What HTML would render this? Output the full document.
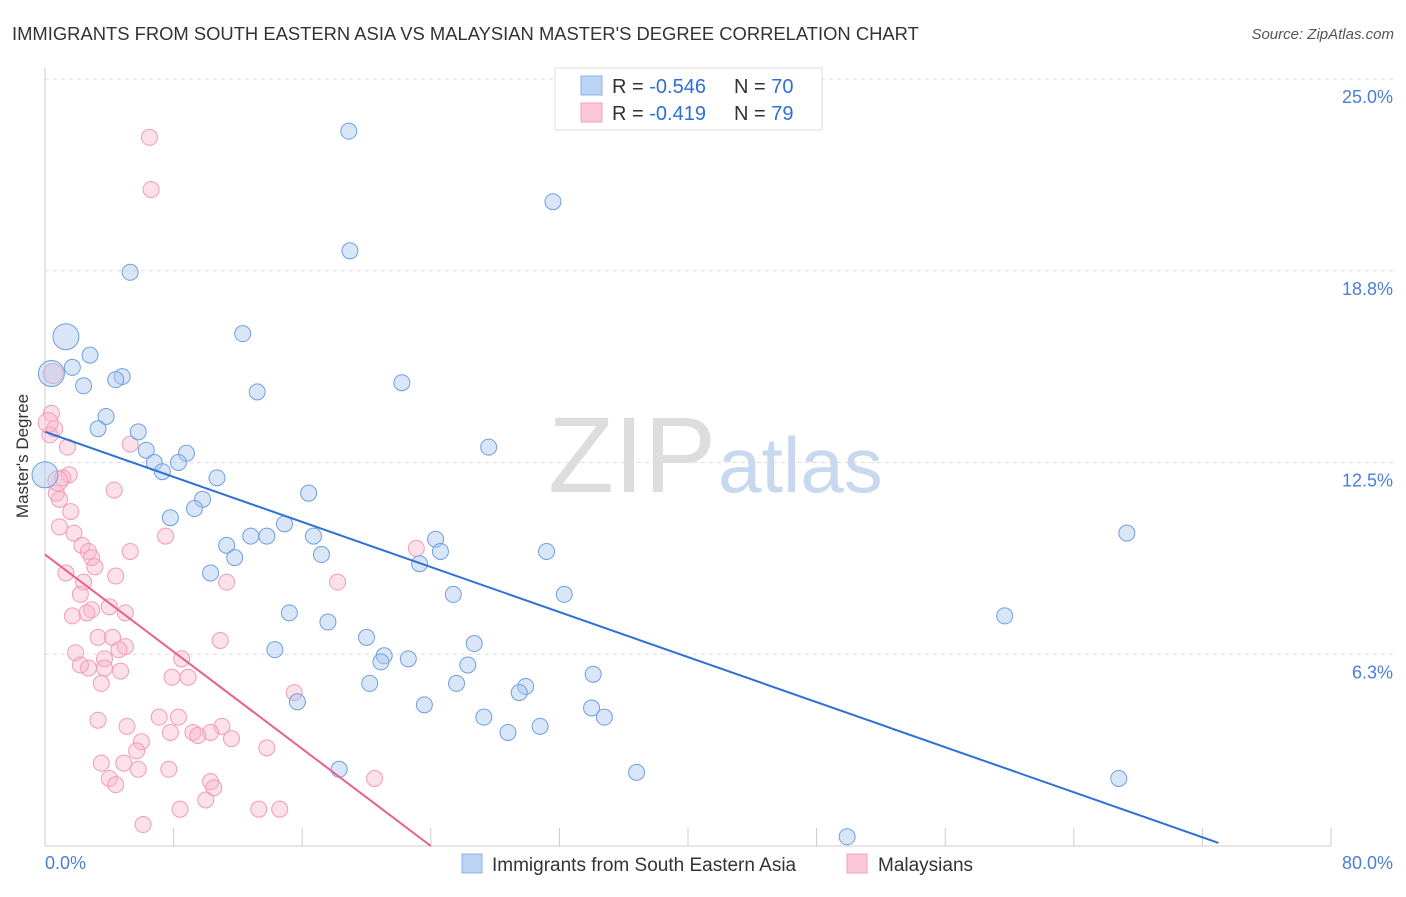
<!DOCTYPE html>
<html><head><meta charset="utf-8"><style>
body{margin:0;background:#fff;font-family:"Liberation Sans",sans-serif}
svg text{font-family:"Liberation Sans",sans-serif}
</style></head><body>
<svg width="1406" height="892" xmlns="http://www.w3.org/2000/svg" id="chart">
<text x="12" y="40" font-size="18.4" fill="#333">IMMIGRANTS FROM SOUTH EASTERN ASIA VS MALAYSIAN MASTER'S DEGREE CORRELATION CHART</text>
<text x="1394" y="39" font-size="15" fill="#555" font-style="italic" text-anchor="end">Source: ZipAtlas.com</text>
<g id="grid"></g>
<text x="716" y="492" font-size="108" fill="#ddd" text-anchor="end" font-family="Liberation Serif">ZIP</text>
<text x="718" y="492" font-size="78" fill="#c8d8ee">atlas</text>
<g id="axes"></g>
<g id="points"></g>
<g id="lines"></g>
<text x="28" y="456" font-size="17" fill="#333" text-anchor="middle" transform="rotate(-90 28 456)">Master's Degree</text>
<text x="45" y="869" font-size="18" fill="#4a7fd4">0.0%</text>
<text x="1393" y="869" font-size="18" fill="#4a7fd4" text-anchor="end">80.0%</text>
<g>
<rect x="555" y="68" width="267" height="62" fill="#fff" stroke="#ddd"/>
<rect x="581" y="76" width="21" height="19" fill="#bcd4f4" stroke="#8ab0e8"/>
<rect x="581" y="103" width="21" height="19" fill="#fbc8d8" stroke="#f0a0bb"/>
<text x="612" y="93" font-size="20" fill="#333">R = <tspan fill="#2f6fd6">-0.546</tspan></text>
<text x="734" y="93" font-size="20" fill="#333">N = <tspan fill="#2f6fd6">70</tspan></text>
<text x="612" y="120" font-size="20" fill="#333">R = <tspan fill="#2f6fd6"> -0.419</tspan></text>
<text x="734" y="120" font-size="20" fill="#333">N = <tspan fill="#2f6fd6">79</tspan></text>
</g>
<g>
<rect x="462" y="854" width="20" height="19" fill="#bcd4f4" stroke="#8ab0e8"/>
<text x="492" y="871" font-size="19" fill="#333">Immigrants from South Eastern Asia</text>
<rect x="847" y="854" width="20" height="19" fill="#fbc8d8" stroke="#f0a0bb"/>
<text x="878" y="871" font-size="19" fill="#333">Malaysians</text>
</g>
</svg>
<script>
const yTicks=[6.3,12.5,18.8,25.0];
const yTickVals=[6.25,12.5,18.75,25];
const blueX=[18.9,31.6,18.97,5.3,1.3,12.3,2.8,1.7,0.4,4.8,4.4,2.4,22.2,13.2,3.8,3.3,5.8,27.6,6.3,8.8,6.8,8.3,7.3,10.7,0,9.8,16.4,9.3,7.8,14.9,13.8,12.8,16.7,24.3,11.3,24.6,17.2,31.2,11.8,23.3,10.3,67.3,25.4,32.3,15.2,59.7,17.6,20.0,26.7,14.3,21.1,20.9,22.6,26.3,34.1,20.2,25.6,29.9,29.5,15.7,23.6,34.0,34.8,27.3,28.8,30.8,18.3,36.8,66.8,49.9];
const blueY=[23.3,21.0,19.4,18.7,16.6,16.7,16.0,15.6,15.4,15.3,15.2,15.0,15.1,14.8,14.0,13.6,13.5,13.0,12.9,12.8,12.5,12.5,12.2,12.0,12.1,11.3,11.5,11.0,10.7,10.5,10.1,10.1,10.1,10.0,9.8,9.6,9.5,9.6,9.4,9.2,8.9,10.2,8.2,8.2,7.6,7.5,7.3,6.8,6.6,6.4,6.2,6.0,6.1,5.9,5.6,5.3,5.3,5.2,5.0,4.7,4.6,4.5,4.2,4.2,3.7,3.9,2.5,2.4,2.2,0.3];
const blueBig=[4,8,24];
const pinkX=[6.5,6.6,0.4,0.6,0.3,5.3,1.4,1.5,1.1,4.3,0.7,0.9,1.6,0.9,1.8,7.5,2.3,2.7,5.3,2.9,3.1,1.3,4.4,2.4,11.3,18.2,23.1,2.2,4.0,2.9,2.6,5.0,1.7,3.3,4.2,10.9,5.0,4.6,1.9,3.7,8.5,2.7,2.2,3.7,4.7,7.9,8.9,3.5,15.5,3.3,7.1,8.3,5.1,11.0,10.3,7.8,9.2,9.5,11.6,6.0,5.7,13.8,3.5,4.9,7.7,5.8,4.0,10.3,4.4,10.5,20.5,10.0,8.4,13.3,14.6,6.1,0.5,0.2,0.8];
const pinkY=[23.1,21.4,14.1,13.6,13.4,13.1,13.0,12.1,12.0,11.6,11.5,11.3,10.9,10.4,10.2,10.1,9.8,9.6,9.6,9.4,9.1,8.9,8.8,8.6,8.6,8.6,9.7,8.2,7.8,7.7,7.6,7.6,7.5,6.8,6.8,6.7,6.5,6.4,6.3,6.1,6.1,5.8,5.9,5.8,5.7,5.5,5.5,5.3,5.0,4.1,4.2,4.2,3.9,3.9,3.7,3.7,3.7,3.6,3.5,3.4,3.1,3.2,2.7,2.7,2.5,2.5,2.2,2.1,2.0,1.9,2.2,1.5,1.2,1.2,1.2,0.7,15.4,13.8,11.9];
const blueLine=[[0,13.5],[73.0,0.1]];
const pinkLine=[[0,9.5],[24.0,0]];
const X0=45,X1=1331,Y0=846,Y25=79;
const sx=v=>X0+(X1-X0)*v/80, sy=v=>Y0-(Y0-Y25)*v/25;
const NS="http://www.w3.org/2000/svg";
function mk(t,a,p){const e=document.createElementNS(NS,t);for(const k in a)e.setAttribute(k,a[k]);p.appendChild(e);return e;}
const grid=document.getElementById('grid'),axes=document.getElementById('axes'),pts=document.getElementById('points'),lines=document.getElementById('lines');
yTickVals.forEach((v,i)=>{
 const l=mk('line',{x1:45,x2:1393,y1:sy(v),y2:sy(v),stroke:'#ddd','stroke-dasharray':'4,4'},grid);
 
 
 const t=mk('text',{x:1393,y:sy(v)+24,'font-size':18,fill:'#4a7fd4','text-anchor':'end'},grid);
 t.textContent=yTicks[i].toFixed(1)+'%';
 
 
});
const a1=mk('line',{x1:45,x2:45,y1:68,y2:846,stroke:'#ccc'},axes);


const a2=mk('line',{x1:45,x2:1331,y1:846,y2:846,stroke:'#ccc'},axes);


for(let i=0;i<=10;i++){const t=mk('line',{x1:sx(i*8),x2:sx(i*8),y1:828,y2:846,stroke:'#ccc'},axes);
 
 }
pinkX.forEach((x,i)=>{const c=mk('circle',{cx:sx(x),cy:sy(pinkY[i]),r:i>=76?10:8,fill:'rgba(248,180,203,0.4)',stroke:'#f29bb8','stroke-width':1},pts);
 
 });
blueX.forEach((x,i)=>{const c=mk('circle',{cx:sx(x),cy:sy(blueY[i]),r:blueBig.includes(i)?13:8,fill:'rgba(170,200,240,0.45)',stroke:'#6f9fe0','stroke-width':1},pts);
 
 });
const bl=mk('line',{x1:sx(blueLine[0][0]),y1:sy(blueLine[0][1]),x2:sx(blueLine[1][0]),y2:sy(blueLine[1][1]),stroke:'#2f6fd6','stroke-width':2},lines);


const pl=mk('line',{x1:sx(pinkLine[0][0]),y1:sy(pinkLine[0][1]),x2:sx(pinkLine[1][0]),y2:sy(pinkLine[1][1]),stroke:'#e8608c','stroke-width':2},lines);


</script>
</body></html>
